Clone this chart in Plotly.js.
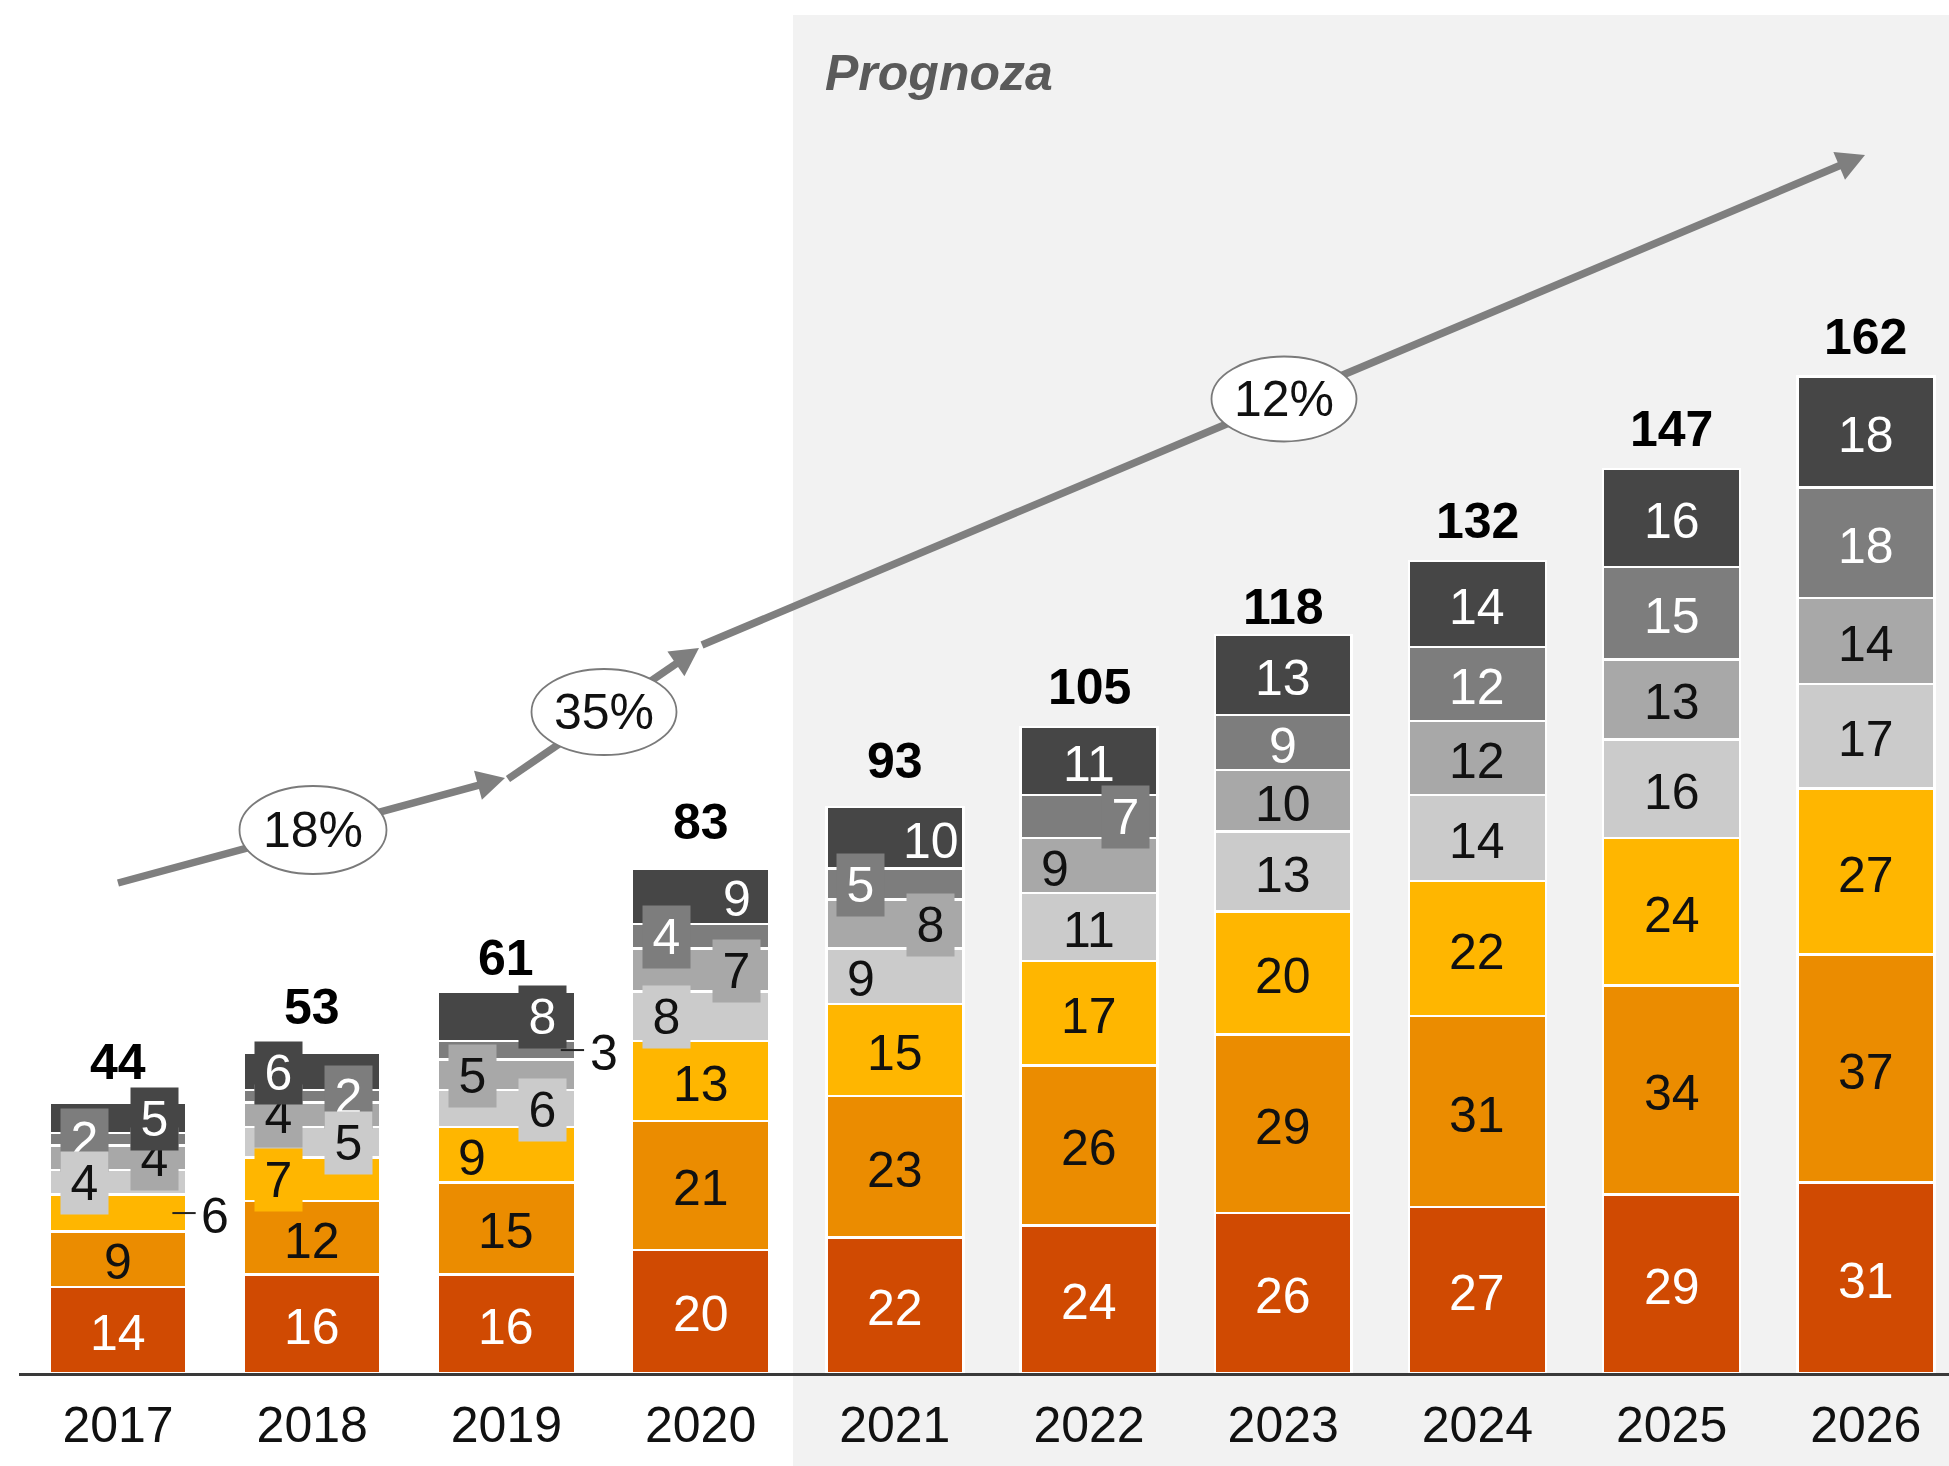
<!DOCTYPE html>
<html><head><meta charset="utf-8">
<script src="https://cdn.plot.ly/plotly-3.0.1.min.js"></script>
<style>html,body{margin:0;padding:0;background:#fff;} #chart{width:1949px;height:1466px;}</style>
</head><body><div id="chart"></div>
<script>
// ---- data ----
const years = ['2017','2018','2019','2020','2021','2022','2023','2024','2025','2026'];
const seriesNames = ['Seria 1','Seria 2','Seria 3','Seria 4','Seria 5','Seria 6','Seria 7'];
const s1 = [14,16,16,20,22,24,26,27,29,31];
const s2 = [9,12,15,21,23,26,29,31,34,37];
const s3 = [6,7,9,13,15,17,20,22,24,27];
const s4 = [4,5,6,8,9,11,13,14,16,17];
const s5 = [4,4,5,7,8,9,10,12,13,14];
const s6 = [2,2,3,4,5,7,9,12,15,18];
const s7 = [5,6,8,9,10,11,13,14,16,18];
const totals = [44,53,61,83,93,105,118,132,147,162];
const growthLabels = ['18%','35%','12%'];
const forecastLabel = 'Prognoza';

// ---- styling / layout ----
const series = [s1,s2,s3,s4,s5,s6,s7];
const colors = ['#D04A02','#EB8C00','#FFB600','#CBCBCB','#A8A8A8','#7D7D7D','#464646'];
const txtColors = ['#fff','#111','#111','#111','#111','#fff','#fff'];
const F = 'Liberation Sans, Arial, sans-serif';
const W=1949,H=1466,ML=19,MR=0,MT=0,MB=93;
const PW=W-ML-MR, PH=H-MT-MB;
const X0=-0.5098, X1=X0+PW/194.2;
const Y1=PH/6.151;
const px = x => (x-ML)/PW;
const py = y => (H-MB-y)/PH;
const idx = years.map((_,i)=>i);

// label placement for small segments: L = left box, R = right box, out = outside with leader
const place = {
  0:{2:'out',3:'L',4:'R',5:'L',6:'R'},
  1:{2:'L',3:'R',4:'L',5:'R',6:'L'},
  2:{2:'L',3:'R',4:'L',5:'out',6:'R'},
  3:{3:'L',4:'R',5:'L',6:'R'},
  4:{3:'L',4:'R',5:'L',6:'R'},
  5:{4:'L',5:'R'}
};

const traces = series.map((v,k)=>({
  type:'bar', x:idx, y:v, name:seriesNames[k], width:0.705,
  marker:{color:colors[k], line:{color:'#ffffff', width:2.5}},
  hoverinfo:'skip', showlegend:false
}));

const shapes = [];
const anns = [];

// forecast background
shapes.push({type:'rect', xref:'paper', yref:'paper', x0:px(793), x1:1.01, y0:py(1470), y1:py(15),
  fillcolor:'#F2F2F2', line:{width:0}, layer:'below'});

years.forEach((yr,i)=>{
  const cum=[]; let c=0;
  series.forEach(v=>{cum.push(c); c+=v[i];});
  const order=[0,1,2,5,4,3,6];
  order.forEach(k=>{
    const v=series[k][i]; const yc=cum[k]+v/2;
    const p=(place[i]||{})[k]||'C';
    const a={xref:'x', yref:'y', x:i, y:yc, yshift:-3, text:String(v), showarrow:false, xanchor:'center', yanchor:'middle',
      font:{size:50, color:txtColors[k], family:F}};
    if(p==='L'||p==='R'){
      a.xshift = p==='L' ? -34 : 36;
      if(v<=8){ a.bgcolor=colors[k]; a.width=47; a.height=62; a.borderpad=0; a.yshift=-1; }
    }
    if(p==='out'){
      a.x=i+0.5; a.font.color='#111';
      shapes.push({type:'line', xref:'x', yref:'y', x0:i+0.28, x1:i+0.40, y0:yc, y1:yc,
        line:{color:'#222', width:2}, layer:'above'});
    }
    anns.push(a);
  });
  anns.push({xref:'x', yref:'y', x:i, y:totals[i], text:'<b>'+totals[i]+'</b>', showarrow:false, xanchor:'center',
    yanchor:'bottom', yshift:10, font:{size:50, color:'#000', family:F}});
});

// growth arrows (pixel geometry)
const arrows = [
  [[118,883],[505,778]],
  [[508,779],[699,648]],
  [[702,645],[1865,155]]
];
const HL=28, HW=15;
arrows.forEach(([t,h])=>{
  const dx=h[0]-t[0], dy=h[1]-t[1], L=Math.hypot(dx,dy), ux=dx/L, uy=dy/L;
  const bx=h[0]-ux*HL, by=h[1]-uy*HL;
  const ex=h[0]-ux*(HL-4), ey=h[1]-uy*(HL-4);
  shapes.push({type:'line', xref:'paper', yref:'paper', x0:px(t[0]), y0:py(t[1]), x1:px(ex), y1:py(ey),
    line:{color:'#7F7F7F', width:7.5}, layer:'above'});
  const c1=[bx-uy*HW, by+ux*HW], c2=[bx+uy*HW, by-ux*HW];
  shapes.push({type:'path', xref:'paper', yref:'paper',
    path:`M${px(h[0])},${py(h[1])} L${px(c1[0])},${py(c1[1])} L${px(c2[0])},${py(c2[1])} Z`,
    fillcolor:'#7F7F7F', line:{width:0}, layer:'above'});
});

// ellipses with growth labels
const ell = [[313,830,147,88],[604,712,145,86],[1284,399,145,85]];
ell.forEach((e,j)=>{
  shapes.push({type:'circle', xref:'paper', yref:'paper', x0:px(e[0]-e[2]/2), x1:px(e[0]+e[2]/2),
    y0:py(e[1]+e[3]/2), y1:py(e[1]-e[3]/2), fillcolor:'#ffffff', line:{color:'#7A7A7A', width:1.8}, layer:'above'});
  anns.push({xref:'paper', yref:'paper', x:px(e[0]), y:py(e[1]), text:growthLabels[j], showarrow:false,
    xanchor:'center', yanchor:'middle', font:{size:50, color:'#111', family:F}});
});

anns.push({xref:'paper', yref:'paper', x:px(823), y:py(73), xanchor:'left', yanchor:'middle',
  text:'<b><i>'+forecastLabel+'</i></b>', showarrow:false, font:{size:50, color:'#5A5A5A', family:F}});

const layout = {
  width:W, height:H, margin:{l:ML, r:MR, t:MT, b:MB, pad:0},
  paper_bgcolor:'#ffffff', plot_bgcolor:'rgba(0,0,0,0)',
  barmode:'stack', showlegend:false,
  xaxis:{type:'linear', range:[X0,X1], showgrid:false, zeroline:false, showline:true,
    linecolor:'#3A3A3A', linewidth:2.5, ticks:'', ticklabelstandoff:6,
    tickmode:'array', tickvals:idx, ticktext:years,
    tickfont:{size:50, color:'#111', family:F}, fixedrange:true},
  yaxis:{range:[0,Y1], visible:false, fixedrange:true},
  shapes:shapes, annotations:anns,
  font:{family:F}
};
Plotly.newPlot('chart', traces, layout, {staticPlot:true, displayModeBar:false});
</script></body></html>
